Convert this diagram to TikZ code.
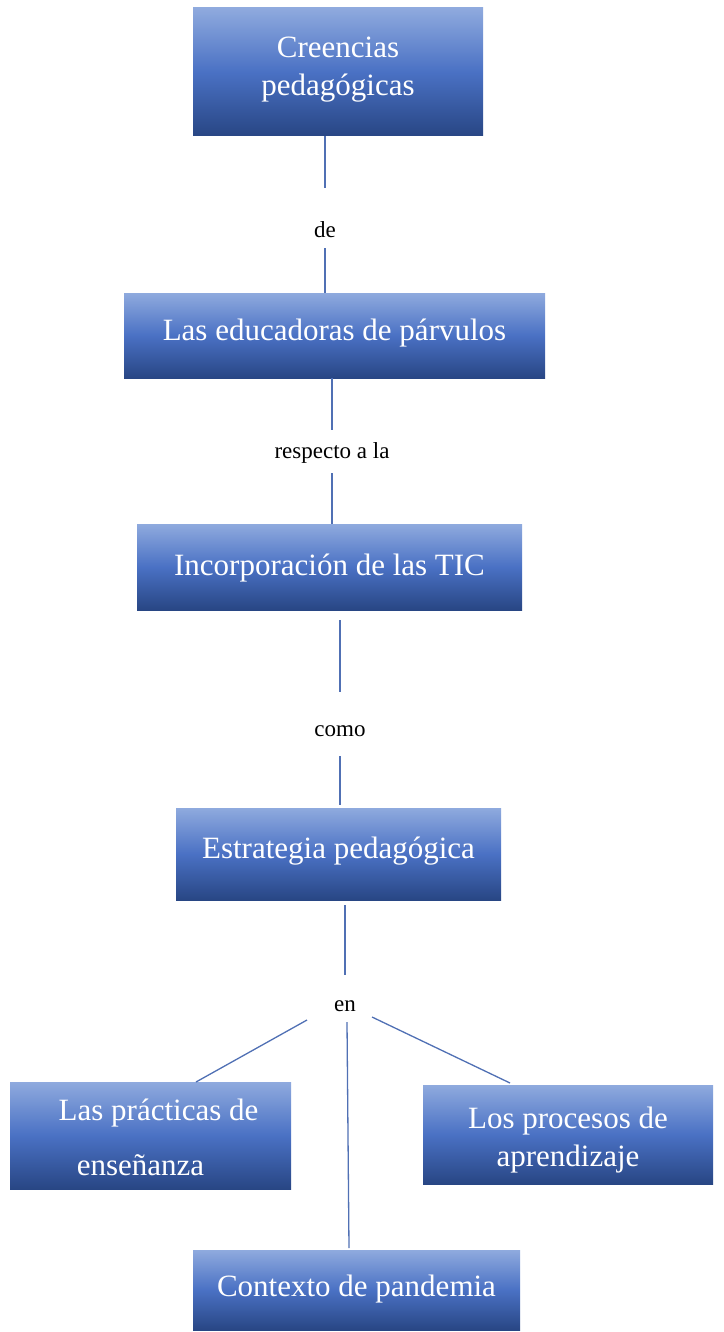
\documentclass[tikz,border=0pt]{standalone}
\usepackage{fontspec}
\setmainfont{Liberation Serif}
\definecolor{boxtop}{RGB}{143,170,222}
\definecolor{boxmid}{RGB}{74,113,196}
\definecolor{boxbot}{RGB}{40,70,132}
\definecolor{linkcol}{RGB}{80,112,180}
\newcommand\vmove[2]{\raisebox{#1}[\height][\depth]{#2}}
\begin{document}
\begin{tikzpicture}[x=1pt,y=-1pt,
  conc/.style={rectangle, inner sep=0pt, top color=boxtop, bottom color=boxbot, middle color=boxmid,
    text=white, font=\fontsize{31}{37}\selectfont, align=center},
  linkword/.style={inner sep=0pt, text=black, font=\fontsize{23}{28}\selectfont},
  link/.style={draw=linkcol, line width=1.3pt}]
\useasboundingbox (0,0) rectangle (723,1332);
% boxes
\node[conc, minimum width=290pt, minimum height=128pt] (b1) at (338,72)
  {\vmove{3pt}{\begin{tabular}{@{}c@{}}Creencias\\[1pt]pedagógicas\end{tabular}}};
\node[conc, minimum width=421pt, minimum height=85pt] (b2) at (334.5,335.5)
  {\vmove{2pt}{Las educadoras de párvulos}};
\node[conc, minimum width=385pt, minimum height=86pt] (b3) at (329.5,567)
  {\vmove{-1pt}{Incorporación de las TIC}};
\node[conc, minimum width=325pt, minimum height=92pt] (b4) at (338.5,854)
  {\vmove{3pt}{Estrategia pedagógica}};
\node[conc, minimum width=281pt, minimum height=107pt] (b5) at (150.5,1135.5)
  {\vmove{-5pt}{\begin{tabular}{@{}c@{}}\hspace*{16pt}Las prácticas de\\[18pt]enseñanza\hspace*{20pt}\end{tabular}}};
\node[conc, minimum width=290pt, minimum height=99pt] (b6) at (568,1134.5)
  {\vmove{-6pt}{\begin{tabular}{@{}c@{}}Los procesos de\\[1pt]aprendizaje\end{tabular}}};
\node[conc, minimum width=327pt, minimum height=80pt] (b7) at (356.5,1290)
  {\vmove{1pt}{Contexto de pandemia}};
% link words
\node[linkword, minimum height=60pt] (de) at (325,218) {\vmove{-12pt}{de}};
\node[linkword, minimum height=43pt] (resp) at (332,451.5) {\vmove{-1pt}{respecto a la}};
\node[linkword, minimum height=64pt] (como) at (340,724) {\vmove{-7pt}{como}};
\node[linkword, minimum height=50pt, minimum width=76pt] (en) at (345,1000) {\vmove{-6pt}{en}};
% coordinates for the branch ends
\coordinate (enl) at (307,1020);
\coordinate (enr) at (372,1017);
\coordinate (enm) at (347,1022);
\coordinate (b5t) at (196,1082);
\coordinate (b6t) at (510,1083);
\coordinate (b7t) at (349,1248);
% connectors
\draw[link] (de.north) -- (de.north |- b1.south);
\draw[link] (de.south) -- (de.south |- b2.north);
\draw[link] (resp.north) -- (resp.north |- b2.south);
\draw[link] (resp.south) -- (resp.south |- b3.north);
\draw[link] (como.north) -- ([yshift=-10pt]como.north |- b3.south);
\draw[link] (como.south) -- ([yshift=3pt]como.south |- b4.north);
\draw[link] (en.north) -- ([yshift=-5pt]en.north |- b4.south);
\draw[link] (enl) -- (b5t);
\draw[link] (enr) -- (b6t);
\draw[link] (enm) -- (b7t);
\end{tikzpicture}
\end{document}
